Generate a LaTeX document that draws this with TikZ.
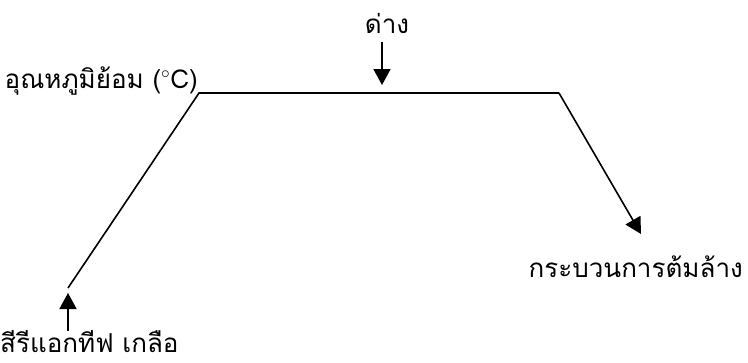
\documentclass[tikz,border=0pt]{standalone}
\usepackage{fontspec}
\newfontfamily\thaifont[Script=Thai]{Loma}
\usetikzlibrary{arrows.meta}
\tikzset{
  lbl/.style={font=\thaifont\fontsize{26}{30}\selectfont, inner sep=0pt},
  curve/.style={line width=1.6pt, line join=miter},
  marker/.style={line width=1.6pt, -{Triangle[length=16pt,width=17pt]}}
}
\begin{document}
\begin{tikzpicture}[x=1pt,y=-1pt]
\useasboundingbox (0,0) rectangle (748,362);
\coordinate (a) at (68,288);
\coordinate (b) at (199,93);
\coordinate (c) at (559,93);
\coordinate (d) at (641,234);
\coordinate (tdown) at (382,85);
\coordinate (sdown) at (382,42);
\coordinate (tup) at (68,293);
\coordinate (sup2) at (68,331);
\node[lbl, anchor=base east] (temp) at (198,88) {อุณหภูมิย้อม ($^{\circ}$C)};
\node[lbl, anchor=base] (base) at (387,33) {ด่าง};
\node[lbl, anchor=base east] (boil) at (743,277) {กระบวนการต้มล้าง};
\node[lbl, anchor=base west] (salt) at (0,352) {สีรีแอกทีฟ เกลือ};
\draw[curve] (a) -- (b) -- (c);
\draw[marker] (c) -- (d);
\draw[marker] (sdown) -- (tdown);
\draw[marker] (sup2) -- (tup);
\end{tikzpicture}
\end{document}
